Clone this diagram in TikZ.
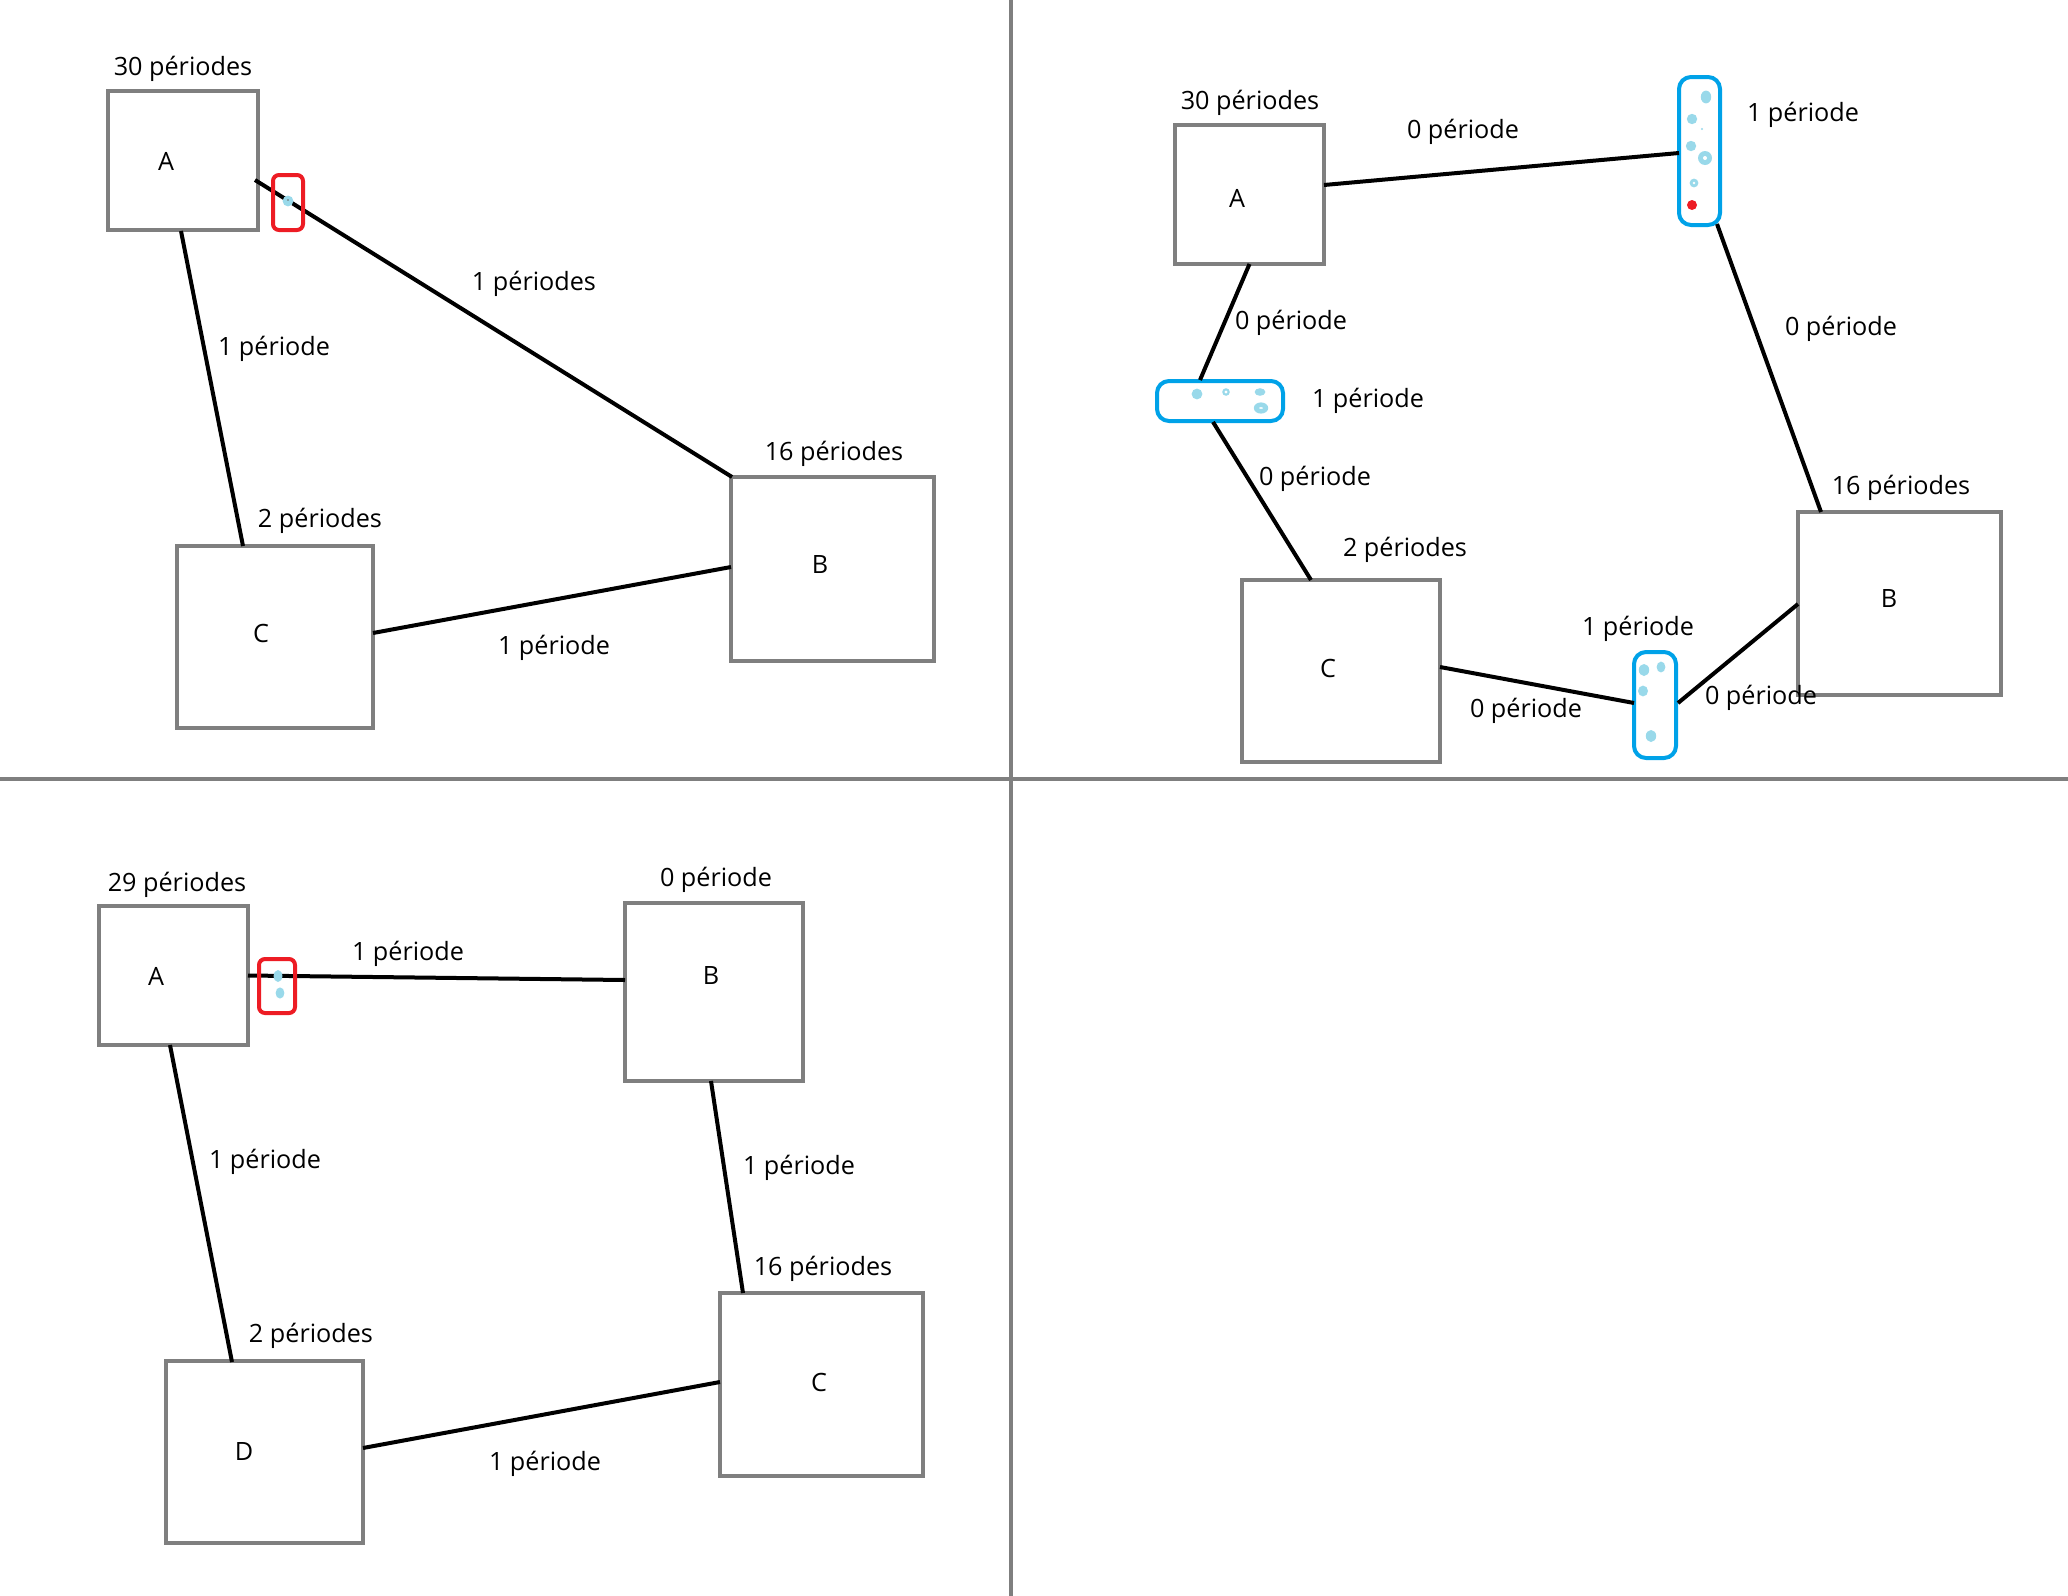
\documentclass[tikz,border=0pt]{standalone}
\usepackage{fontspec}
\setmainfont{Open Sans}
\usetikzlibrary{calc}
\definecolor{pgray}{RGB}{127,127,127}
\definecolor{pblue}{RGB}{0,162,232}
\definecolor{pred}{RGB}{237,28,36}
\definecolor{plight}{RGB}{153,217,234}
\tikzset{
 box/.style={draw=pgray, line width=2pt, inner sep=0pt, outer sep=0pt},
 conn/.style={draw=black, line width=2pt},
 lbl/.style={font=\fontsize{12.6}{15}\selectfont, inner sep=0pt, yshift=-1.5pt},
 letter/.style={font=\fontsize{12.6}{15}\selectfont, inner sep=0pt, yshift=0.3pt},
 redbox/.style={draw=pred, line width=2pt, rounded corners=3pt, inner sep=0pt, outer sep=0pt},
 capsule/.style={draw=pblue, line width=2pt, rounded corners=6pt, inner sep=0pt, outer sep=0pt},
 divider/.style={draw=pgray, line width=2pt},
}
\begin{document}
\begin{tikzpicture}[x=0.5pt,y=-0.5pt]
\useasboundingbox (0,0) rectangle (2068,1596);
% dividers
\coordinate (vt) at (1011,0); \coordinate (vb) at (1011,1596);
\coordinate (hl) at (0,779); \coordinate (hr) at (2068,779);
\draw[divider] (vt) -- (vb);
\draw[divider] (hl) -- (hr);

% ===== Panel 1 =====
\node[box, minimum width=75pt, minimum height=69.5pt] (pA) at (183,160.5) {};
\node[box, minimum width=101.5pt, minimum height=92pt] (pB) at (832.5,569) {};
\node[box, minimum width=98pt, minimum height=91pt] (pC) at (275,637) {};
\draw[conn] ($(pA.north east)+(-3,89)$) -- ($(pB.north west)+(1,0)$);
\draw[conn] ($(pA.south)+(-2,1)$) -- ($(pC.north)+(-32,0)$);
\draw[conn] ($(pC.east)+(0,-4)$) -- ($(pB.west)+(0,-2)$);
\node[redbox, minimum width=15pt, minimum height=27.5pt] (pR) at (288,202.5) {};
\fill[plight] (288,201) circle[radius=2.7pt];
\fill[black!60] (288,200) circle[radius=0.4pt];
\node[lbl] (p1) at (183,66) {30 périodes};
\node[letter] (p2) at (166,162) {A};
\node[lbl] (p3) at (534,281) {1 périodes};
\node[lbl] (p4) at (274,346) {1 période};
\node[lbl] (p5) at (834,451) {16 périodes};
\node[letter] (p6) at (820,565) {B};
\node[lbl] (p7) at (320,518) {2 périodes};
\node[letter] (p8) at (261,634) {C};
\node[lbl] (p9) at (554,645) {1 période};

% ===== Panel 2 =====
\node[box, minimum width=74.5pt, minimum height=69.5pt] (qA) at (1249.5,194.5) {};
\node[box, minimum width=101.5pt, minimum height=91.5pt] (qB) at (1899.5,603.5) {};
\node[box, minimum width=99pt, minimum height=91pt] (qC) at (1341,671) {};
\node[capsule, minimum width=20.5pt, minimum height=74pt] (qT) at (1699.5,151) {};
\node[capsule, minimum width=63pt, minimum height=20pt] (qL) at (1220,401) {};
\node[capsule, minimum width=21pt, minimum height=53pt] (qM) at (1655,705) {};
\draw[conn] ($(qA.east)+(0,-9.5)$) -- ($(qT.west)+(0,2)$);
\draw[conn] ($(qT.south)+(17.5,-1)$) -- ($(qB.north)+(-78.5,0)$);
\draw[conn] ($(qA.south)+(0,0)$) -- ($(qL.north)+(-20,-1)$);
\draw[conn] ($(qL.south)+(-7,1)$) -- ($(qC.north)+(-30,0)$);
\draw[conn] ($(qC.east)+(0,-4)$) -- ($(qM.west)+(0,-2)$);
\draw[conn] ($(qM.east)+(2,-2)$) -- ($(qB.west)+(0,0.5)$);
% dots top capsule
\fill[plight] (1706,97) ellipse[x radius=2.6pt, y radius=3.2pt];
\fill[plight] (1692,119) circle[radius=2.6pt];
\fill[plight] (1702,129) circle[radius=0.6pt];
\fill[plight] (1691,146) circle[radius=2.6pt];
\fill[plight] (1705,158) circle[radius=3.5pt];
\fill[white] (1705,158) circle[radius=1pt];
\fill[plight] (1694,183) circle[radius=2.2pt];
\fill[white] (1694,183) circle[radius=0.7pt];
\fill[pred] (1692,205) circle[radius=2.5pt];
% dots left capsule
\fill[plight] (1197,394) circle[radius=2.7pt];
\fill[plight] (1226,392) circle[radius=1.9pt];
\fill[white] (1226,392) circle[radius=0.8pt];
\fill[plight] (1260,392) ellipse[x radius=2.7pt, y radius=1.9pt];
\fill[plight] (1261,408) ellipse[x radius=3.6pt, y radius=2.8pt];
\fill[white] (1261,408) ellipse[x radius=1pt, y radius=0.4pt];
% dots bottom capsule
\fill[plight] (1644,670) ellipse[x radius=2.6pt, y radius=3pt];
\fill[plight] (1661,667) ellipse[x radius=2.2pt, y radius=2.7pt];
\fill[plight] (1643,691) ellipse[x radius=2.5pt, y radius=2.7pt];
\fill[plight] (1651,736) ellipse[x radius=2.6pt, y radius=3pt];
\node[lbl] (q1) at (1250,100) {30 périodes};
\node[letter] (q2) at (1237,199) {A};
\node[lbl] (q3) at (1463,129) {0 période};
\node[lbl] (q4) at (1803,112) {1 période};
\node[lbl] (q5) at (1841,326) {0 période};
\node[lbl] (q6) at (1901,485) {16 périodes};
\node[letter] (q7) at (1889,599) {B};
\node[lbl] (q8) at (1291,320) {0 période};
\node[lbl] (q9) at (1368,398) {1 période};
\node[lbl] (q10) at (1315,476) {0 période};
\node[lbl] (q11) at (1405,547) {2 périodes};
\node[letter] (q12) at (1328,669) {C};
\node[lbl] (q13) at (1526,708) {0 période};
\node[lbl] (q14) at (1638,626) {1 période};
\node[lbl] (q15) at (1761,695) {0 période};

% ===== Panel 3 =====
\node[box, minimum width=74.5pt, minimum height=69.5pt] (rA) at (173.5,975.5) {};
\node[box, minimum width=89pt, minimum height=89pt] (rB) at (714,992) {};
\node[box, minimum width=101.5pt, minimum height=91.5pt] (rC) at (821.5,1384.5) {};
\node[box, minimum width=98.5pt, minimum height=91pt] (rD) at (264.5,1452) {};
\draw[conn] (rA.east) -- ($(rB.west)+(0,-12)$);
\draw[conn] ($(rA.south)+(-3.5,0)$) -- ($(rD.north)+(-32.5,1)$);
\draw[conn] ($(rB.south)+(-3,0)$) -- ($(rC.north)+(-78.5,0)$);
\draw[conn] ($(rD.east)+(0,-4)$) -- ($(rC.west)+(0,-2.5)$);
\node[redbox, minimum width=18pt, minimum height=27pt] (rR) at (277,986) {};
\fill[plight] (278,976) ellipse[x radius=2.2pt, y radius=3pt];
\fill[plight] (280,993) ellipse[x radius=2.2pt, y radius=2.8pt];
\node[lbl] (r1) at (177,882) {29 périodes};
\node[letter] (r2) at (156,977) {A};
\node[lbl] (r3) at (408,951) {1 période};
\node[lbl] (r4) at (716,877) {0 période};
\node[letter] (r5) at (711,976) {B};
\node[lbl] (r6) at (265,1159) {1 période};
\node[lbl] (r7) at (799,1165) {1 période};
\node[lbl] (r8) at (823,1266) {16 périodes};
\node[letter] (r9) at (819,1383) {C};
\node[lbl] (r10) at (311,1333) {2 périodes};
\node[letter] (r11) at (244,1452) {D};
\node[lbl] (r12) at (545,1461) {1 période};
\end{tikzpicture}
\end{document}
